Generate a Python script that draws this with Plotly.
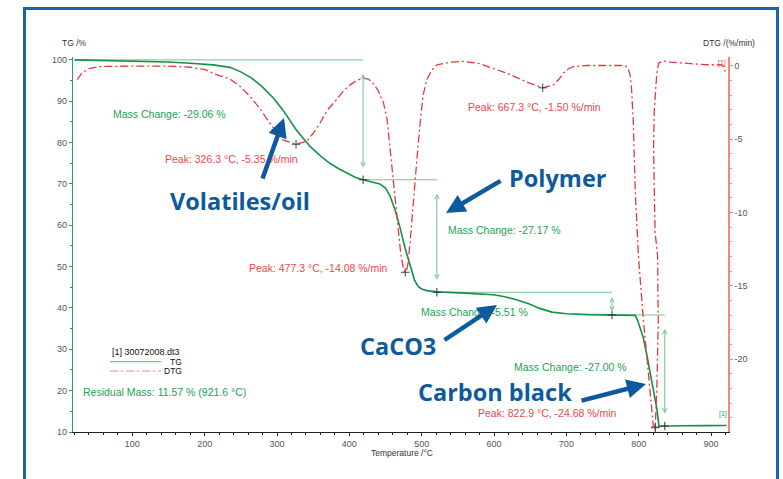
import plotly.graph_objects as go

# ---------------- data ----------------
tg_temp = [20, 60, 100, 150, 180, 212, 235, 250, 265, 279, 295, 308, 327, 346, 360,
           373, 386, 396, 408, 419, 430, 442, 450, 456, 463, 470, 477, 484, 490, 495,
           500, 507, 521, 560, 599, 615, 631, 648, 663, 680, 700, 730, 763, 795, 798,
           802, 806, 811, 815, 820, 825, 828, 836, 860, 890, 921.6]
tg_mass = [100.0, 99.9, 99.8, 99.5, 99.2, 98.8, 98.2, 97.1, 95.6, 93.6, 90.8, 87.9, 83.0, 79.0, 76.8,
           75.0, 73.6, 72.6, 71.6, 71.0, 70.6, 70.0, 69.0, 67.2, 63.8, 59.5, 54.5, 50.0, 46.8, 45.2,
           44.6, 44.2, 43.9, 43.6, 43.2, 42.7, 42.0, 41.0, 39.9, 39.0, 38.6, 38.4, 38.3, 38.2, 37.2,
           35.2, 33.0, 28.8, 24.8, 20.6, 15.7, 11.4, 11.45, 11.5, 11.55, 11.57]

dtg_temp = [24, 30, 40, 55, 100, 150, 180, 200, 216, 235, 249, 263, 276, 290, 308, 326.3,
            341, 350, 359.5, 370, 382.5, 392, 401, 410, 419, 426, 433, 440, 447, 452, 456,
            461, 466, 471, 475, 477.3, 479, 481, 484, 487, 490, 494, 498, 502, 507, 514,
            521, 540, 557, 580, 604, 620, 636, 650, 667.3, 682, 690, 696, 703, 710, 728,
            751, 778, 783, 786, 788, 790, 792.5, 795, 799.5, 803, 806.5, 811, 815.5, 818,
            820, 822.9, 825, 827, 826, 822.5, 821, 820.5, 821.5, 823, 825, 827.5, 834, 843,
            866, 894, 912, 918, 919.5]
dtg_rate = [-0.95, -0.5, -0.2, -0.05, -0.02, -0.02, -0.1, -0.25, -0.6, -0.9, -1.4, -2.1, -2.9, -3.9, -5.05, -5.35,
            -5.15, -4.6, -3.9, -3.0, -2.3, -1.7, -1.3, -1.0, -0.84, -0.9, -1.2, -1.7, -2.5, -3.6, -5.5,
            -7.8, -10.3, -12.8, -13.9, -14.08, -14.0, -13.5, -12.0, -10.0, -8.2, -6.0, -3.8, -2.0, -0.95, -0.3,
            0.07, 0.25, 0.3, 0.15, -0.27, -0.55, -0.9, -1.2, -1.5, -1.3, -0.9, -0.5, -0.2, -0.05, 0.02,
            0.0, 0.02, -0.05, -0.3, -0.6, -1.5, -3.8, -8.3, -12.9, -15.2, -17.4, -19.7, -22.0, -23.8,
            -24.5, -24.68, -22.0, -17.4, -12.9, -11.3, -8.3, -5.5, -3.0, -1.5, -0.5, 0.18, 0.34, 0.25,
            0.18, 0.07, 0.07, -0.05, -0.4]
assert len(tg_temp) == len(tg_mass) and len(dtg_temp) == len(dtg_rate)

step_temps = [25, 419, 521, 763, 836]          # evaluation limits
step_levels = [100.0, 71.0, 43.8, 38.3, 11.45]  # TG plateau levels
mass_changes = ["-29.06", "-27.17", "-5.51", "-27.00"]
peak_temps = [326.3, 477.3, 667.3, 822.9]
peak_rates = [-5.35, -14.08, -1.50, -24.68]
residual_mass = "11.57"
residual_temp = "921.6"

x_ticks = [100, 200, 300, 400, 500, 600, 700, 800, 900]
tg_ticks = [10, 20, 30, 40, 50, 60, 70, 80, 90, 100]
dtg_ticks = [0, -5, -10, -15, -20]

components = ["Volatiles/oil", "Polymer", "CaCO3", "Carbon black"]

# ---------------- style ----------------
TG_COLOR = '#13924a'
REF_GREEN = '#74c491'
TEXT_GREEN = '#23a257'
RED = '#e8393b'
TEXT_RED = '#ef4646'
AXIS_RED = '#f08686'
AXIS_GREEN = '#2aa05a'
BLUE = '#0d5a9f'
FRAME_BLUE = '#1b63ab'
FONT = 'Liberation Sans, Arial, sans-serif'

L, R, T, B = 73, 728, 57, 432   # plot area in pixels
W, H = 783, 479


def px(x):
    return (x - L) / (R - L)


def py(y):
    return (B - y) / (B - T)


fig = go.Figure()

# reference (evaluation) lines
for i in range(4):
    fig.add_trace(go.Scatter(x=[step_temps[i], step_temps[i + 1]], y=[step_levels[i], step_levels[i]],
                             mode='lines', line=dict(color=REF_GREEN, width=1), hoverinfo='skip',
                             showlegend=False))

fig.add_trace(go.Scatter(x=tg_temp, y=tg_mass, mode='lines', name='TG',
                         line=dict(color=TG_COLOR, width=1.6), showlegend=False))
fig.add_trace(go.Scatter(x=dtg_temp, y=dtg_rate, mode='lines', name='DTG', yaxis='y2',
                         line=dict(color=RED, width=1.3, dash='8px,3px,2px,3px'), showlegend=False))

# crosses
fig.add_trace(go.Scatter(x=step_temps[1:] + [peak_temps[3]], y=step_levels[1:] + [11.2], mode='markers',
                         marker=dict(symbol='cross-thin', size=6, line=dict(width=1, color='#333')),
                         showlegend=False, hoverinfo='skip'))
fig.add_trace(go.Scatter(x=peak_temps, y=peak_rates, mode='markers', yaxis='y2',
                         marker=dict(symbol='cross-thin', size=6, line=dict(width=1, color='#444')),
                         showlegend=False, hoverinfo='skip'))

annotations = []
# double headed arrows for mass changes
for i in range(4):
    a, b = step_levels[i], step_levels[i + 1]
    inset = min(3.0, 0.15 * abs(a - b))
    annotations.append(dict(x=step_temps[i + 1], y=b + inset, ax=step_temps[i + 1], ay=a - inset,
                            xref='x', yref='y', axref='x', ayref='y', text='', showarrow=True,
                            arrowhead=5, startarrowhead=5, arrowside='end+start', arrowsize=0.9,
                            startarrowsize=0.9, arrowwidth=1, arrowcolor=REF_GREEN, standoff=0,
                            startstandoff=0))

def txt(s, x, y, color, size=10.5, xanchor='center', family=FONT):
    annotations.append(dict(text=s, x=px(x), y=py(y), xref='paper', yref='paper', showarrow=False,
                            xanchor=xanchor, yanchor='middle', font=dict(family=family, size=size, color=color)))

mc_pos = [(169, 114), (504, 230), (474, 312), (570, 367)]
for s, (x, y) in zip(mass_changes, mc_pos):
    txt(f"Mass Change: {s} %", x, y, TEXT_GREEN)

pk_pos = [(231, 159), (318, 268), (534, 107), (547, 413)]
for t, r, (x, y) in zip(peak_temps, peak_rates, pk_pos):
    txt(f"Peak: {t:.1f} °C, {r:.2f} %/min", x, y, TEXT_RED)

txt(f"Residual Mass: {residual_mass} % ({residual_temp} °C)", 164, 392, TEXT_GREEN)

# small markers
txt("[1]", 723, 414, TEXT_GREEN, size=7)
txt("[1]", 722, 63, TEXT_RED, size=7)

# axis titles
txt("TG /%", 74, 43, '#333', size=8.5)
txt("DTG /(%/min)", 729, 43, '#333', size=8.5)
txt("Temperature /°C", 402, 452.5, '#333', size=8.5)

# legend (manual)
txt("[1] 30072008.dt3", 110, 352, '#111', size=9, xanchor='left')
txt("TG", 184, 362, '#111', size=8.5, xanchor='right')
txt("DTG", 184, 371, '#111', size=8.5, xanchor='right')

# big blue component labels and arrows
comp_pos = [(240, 201), (558, 178), (398, 346), (495, 392)]
for s, (x, y) in zip(components, comp_pos):
    txt(f"<b>{s}</b>", x, y, BLUE, size=23.5, family='Open Sans, sans-serif')

arrows = [((262, 180), (284, 118)), ((502, 180), (446, 213)), ((443, 341), (497, 305)),
          ((580, 401), (646, 384))]
for (tx, ty), (hx, hy) in arrows:
    annotations.append(dict(x=px(hx), y=py(hy), xref='paper', yref='paper', ax=tx - hx, ay=ty - hy,
                            axref='pixel', ayref='pixel', text='', showarrow=True, arrowhead=2,
                            arrowsize=0.85, arrowwidth=4.5, arrowcolor=BLUE, standoff=0))

shapes = [
    # frame
    dict(type='rect', xref='paper', yref='paper', x0=px(24.5), x1=px(777.5), y0=py(495), y1=py(8.5),
         line=dict(color=FRAME_BLUE, width=3), layer='below'),
    # legend samples
    dict(type='line', xref='paper', yref='paper', x0=px(110), x1=px(161), y0=py(361.7), y1=py(361.7),
         line=dict(color=REF_GREEN, width=1.2)),
    dict(type='line', xref='paper', yref='paper', x0=px(110), x1=px(161), y0=py(371), y1=py(371),
         line=dict(color=AXIS_RED, width=1.2, dash='8px,3px,2px,3px')),
]

tickfont = dict(family=FONT, size=9, color='#555')
fig.update_layout(
    width=W, height=H, autosize=False,
    margin=dict(l=L, r=W - R, t=T, b=H - B, pad=0),
    paper_bgcolor='white', plot_bgcolor='white',
    showlegend=False,
    xaxis=dict(range=[18, 923.4], showline=True, linecolor='#222', linewidth=1, ticks='outside',
               ticklen=3, tickcolor='#222', tickvals=x_ticks, ticktext=[str(v) for v in x_ticks],
               tickfont=tickfont, showgrid=False, zeroline=False,
               minor=dict(dtick=20, tick0=0, ticks='outside', ticklen=2, tickcolor='#222')),
    yaxis=dict(range=[10, 100.7], showline=True, linecolor=AXIS_GREEN, linewidth=1.2, ticks='outside',
               ticklen=3, tickcolor=AXIS_GREEN, tickvals=tg_ticks, ticktext=[str(v) for v in tg_ticks],
               tickfont=tickfont, showgrid=False, zeroline=False,
               minor=dict(dtick=5, tick0=0, ticks='outside', ticklen=2, tickcolor=AXIS_GREEN)),
    yaxis2=dict(range=[-24.97, 0.6], overlaying='y', side='right', showline=True, linecolor=AXIS_RED,
                linewidth=1.5, ticks='outside', ticklen=3, tickcolor=AXIS_RED, tickvals=dtg_ticks,
                ticktext=[str(v) for v in dtg_ticks], tickfont=tickfont, showgrid=False, zeroline=False,
                minor=dict(dtick=1, tick0=0, ticks='outside', ticklen=2, tickcolor=AXIS_RED)),
    annotations=annotations,
    shapes=shapes,
)

fig.write_html("out.html", config={'displayModeBar': False},
               post_script="document.body.style.margin='0px';document.body.style.overflow='hidden';")
